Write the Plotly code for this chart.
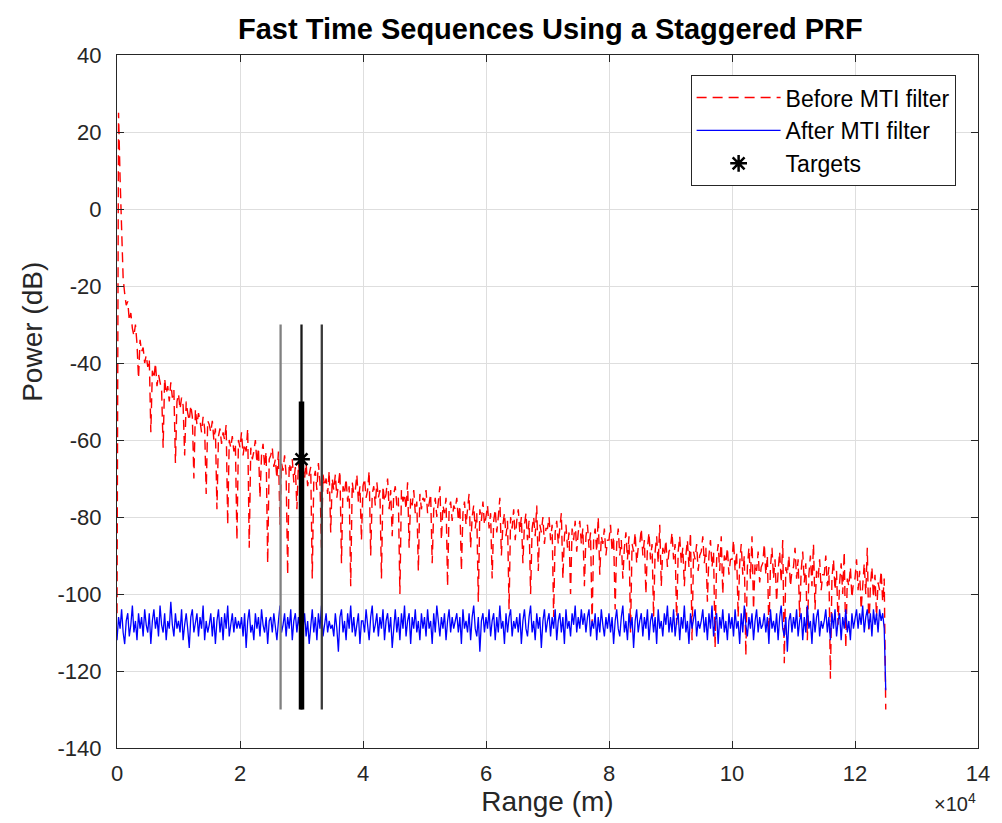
import plotly.graph_objects as go

# ---------------- data ----------------
range_step_m = 250  # range-bin spacing of the sampled sequences
before_mti_db = [
    -105, 25, 8, -5, -18, -22, -25, -24, -29, -27, -31, -33, -30, -35, -44, -34, -37, -36, -40, -38,
    -41, -39, -58, -42, -44, -40, -46, -43, -45, -47, -62, -44, -48, -46, -50, -45, -49, -47, -66, -50,
    -48, -52, -49, -51, -64, -50, -53, -55, -51, -54, -70, -52, -56, -53, -55, -58, -54, -57, -74, -55,
    -56, -58, -55, -60, -57, -78, -59, -57, -61, -58, -60, -56, -82, -60, -62, -59, -63, -61, -86, -60,
    -62, -58, -64, -61, -63, -57, -88, -62, -65, -63, -60, -66, -62, -75, -64, -61, -67, -63, -92, -65,
    -64, -62, -67, -65, -70, -63, -82, -66, -68, -64, -69, -95, -66, -68, -65, -71, -67, -78, -66, -69,
    -65, -68, -70, -66, -72, -69, -67, -96, -70, -68, -73, -66, -71, -88, -69, -72, -70, -74, -68, -84,
    -70, -73, -69, -75, -71, -68, -92, -72, -74, -70, -76, -72, -98, -71, -74, -73, -69, -76, -72, -86,
    -72, -70, -75, -73, -68, -90, -74, -72, -77, -71, -75, -73, -96, -72, -76, -74, -70, -78, -73, -85,
    -74, -72, -77, -75, -100, -73, -76, -74, -78, -71, -88, -75, -77, -73, -79, -76, -94, -74, -78, -75,
    -76, -73, -79, -77, -74, -92, -78, -75, -80, -76, -72, -86, -77, -79, -75, -98, -78, -76, -81, -77,
    -78, -75, -81, -77, -94, -79, -76, -82, -78, -74, -88, -80, -77, -83, -79, -102, -78, -81, -76, -82,
    -80, -77, -83, -79, -96, -81, -78, -84, -80, -75, -90, -82, -79, -85, -81, -104, -80, -83, -78, -86,
    -81, -78, -84, -80, -92, -82, -79, -86, -81, -100, -83, -80, -85, -77, -94, -82, -84, -80, -87, -83,
    -83, -80, -86, -82, -106, -84, -81, -87, -83, -79, -96, -85, -82, -88, -84, -100, -83, -86, -81, -89,
    -84, -81, -87, -83, -98, -85, -82, -88, -84, -108, -86, -83, -89, -80, -95, -85, -87, -83, -90, -86,
    -86, -82, -89, -85, -104, -87, -83, -90, -86, -96, -88, -84, -91, -85, -110, -87, -89, -84, -92, -88,
    -87, -83, -90, -86, -100, -88, -84, -91, -87, -106, -89, -85, -92, -82, -98, -88, -90, -86, -93, -89,
    -88, -84, -91, -87, -108, -89, -85, -92, -88, -98, -90, -86, -93, -84, -112, -89, -91, -87, -94, -90,
    -89, -85, -92, -88, -102, -90, -86, -93, -89, -114, -91, -87, -94, -85, -100, -90, -92, -88, -95, -91,
    -91, -86, -94, -89, -106, -92, -87, -95, -90, -116, -93, -88, -96, -85, -104, -92, -94, -89, -97, -93,
    -92, -87, -95, -90, -110, -93, -88, -96, -91, -102, -94, -89, -97, -86, -118, -93, -95, -90, -98, -94,
    -93, -88, -96, -91, -106, -94, -89, -97, -92, -112, -95, -90, -98, -87, -104, -94, -96, -91, -99, -95,
    -95, -90, -98, -93, -122, -96, -91, -99, -94, -108, -97, -92, -100, -89, -114, -96, -98, -93, -101, -97,
    -96, -91, -99, -94, -104, -97, -92, -100, -88, -110, -98, -93, -101, -95, -106, -97, -99, -94, -102, -96,
    -130,
]
after_mti_db = [
    -112, -106, -109, -104, -110, -113, -107, -105, -111, -108, -103, -110, -107, -112, -105, -109, -106, -111, -104, -108,
    -110, -105, -113, -107, -104, -109, -106, -111, -103, -108, -110, -105, -112, -107, -109, -102, -108, -111, -105, -109,
    -107, -110, -104, -112, -108, -105, -109, -114, -106, -104, -110, -107, -105, -111, -106, -109, -103, -112, -107, -110,
    -108, -105, -111, -106, -113, -107, -104, -110, -106, -112, -105, -109, -103, -111, -108, -105, -110, -106, -109, -107,
    -109, -106, -111, -105, -114, -107, -104, -110, -108, -112, -105, -109, -106, -111, -104, -108, -110, -106, -113, -107,
    -106, -110, -105, -109, -112, -107, -103, -110, -108, -105, -111, -106, -109, -104, -112, -107, -105, -110, -106, -109,
    -66, -109, -105, -111, -107, -113, -108, -104, -110, -106, -112, -105, -109, -103, -111, -108, -105, -110, -107, -109,
    -108, -111, -105, -109, -115, -106, -104, -110, -107, -112, -105, -109, -103, -110, -106, -111, -108, -105, -113, -107,
    -107, -110, -104, -109, -112, -106, -103, -110, -108, -105, -111, -106, -109, -104, -112, -107, -105, -110, -106, -114,
    -108, -104, -110, -106, -112, -105, -109, -103, -111, -107, -105, -113, -106, -109, -104, -110, -107, -112, -105, -109,
    -106, -111, -104, -109, -107, -113, -105, -110, -103, -108, -111, -106, -109, -105, -112, -107, -104, -110, -106, -109,
    -107, -105, -110, -106, -113, -104, -109, -107, -110, -105, -112, -106, -103, -109, -111, -106, -115, -107, -105, -110,
    -106, -109, -104, -111, -107, -105, -112, -106, -110, -103, -109, -107, -113, -105, -110, -106, -104, -111, -107, -109,
    -106, -110, -105, -113, -107, -104, -109, -111, -106, -103, -110, -107, -112, -105, -109, -106, -114, -107, -104, -110,
    -107, -105, -111, -106, -109, -104, -112, -107, -105, -110, -106, -113, -104, -109, -107, -111, -105, -108, -103, -110,
    -106, -109, -104, -108, -105, -110, -106, -104, -111, -107, -109, -105, -112, -106, -110, -104, -108, -111, -106, -109,
    -105, -110, -106, -113, -107, -104, -109, -111, -106, -103, -110, -107, -112, -105, -109, -106, -114, -107, -104, -110,
    -107, -105, -111, -106, -109, -104, -112, -107, -105, -110, -106, -113, -104, -109, -107, -111, -105, -108, -103, -110,
    -106, -110, -104, -111, -107, -105, -112, -106, -109, -103, -110, -107, -113, -105, -109, -106, -104, -111, -107, -109,
    -107, -104, -110, -106, -112, -105, -109, -103, -111, -107, -105, -113, -106, -109, -104, -110, -107, -112, -105, -109,
    -106, -111, -104, -109, -107, -113, -105, -110, -103, -108, -111, -106, -109, -105, -112, -107, -104, -110, -106, -109,
    -108, -105, -110, -106, -113, -104, -109, -107, -110, -105, -112, -106, -103, -109, -111, -106, -115, -107, -105, -110,
    -106, -109, -104, -111, -107, -105, -112, -106, -110, -103, -109, -107, -113, -105, -110, -106, -104, -111, -107, -109,
    -107, -104, -110, -106, -112, -105, -109, -104, -111, -107, -105, -112, -106, -109, -104, -110, -107, -112, -105, -109,
    -106, -104, -109, -105, -108, -103, -110, -106, -104, -109, -105, -111, -104, -108, -105, -110, -104, -107, -105, -109,
    -125,
]
range_m = [i * range_step_m for i in range(len(before_mti_db))]

target_range_m = [30000]
target_power_db = [-65]

# vertical marker lines: x, y-bottom, y-top
marker_line_x = [26600, 30000, 33300]
marker_line_bottom = [-130, -130, -130]
marker_line_top = [-30, -30, -30]
marker_line_colors = ["#808080", "#1a1a1a", "#3a3a3a"]
thick_line_x = [30000]
thick_line_bottom = [-130]
thick_line_top = [-50]

x_tick_vals = [0, 20000, 40000, 60000, 80000, 100000, 120000, 140000]
x_tick_text = ["0", "2", "4", "6", "8", "10", "12", "14"]
y_tick_vals = [-140, -120, -100, -80, -60, -40, -20, 0, 20, 40]
y_tick_text = ["-140", "-120", "-100", "-80", "-60", "-40", "-20", "0", "20", "40"]

# ---------------- figure ----------------
FONT = "Liberation Sans, Arial, Helvetica, sans-serif"
AX = "#262626"

fig = go.Figure()
fig.add_trace(go.Scatter(
    x=range_m, y=before_mti_db, mode="lines", name="Before MTI filter",
    legendgroup="a",
    line=dict(color="#ff0000", width=1.4, dash="10px,6px"),
))
fig.add_trace(go.Scatter(
    x=range_m, y=after_mti_db, mode="lines", name="After MTI filter",
    legendgroup="b",
    line=dict(color="#0000ff", width=1.3),
))
for xv, yb, yt, c in zip(marker_line_x, marker_line_bottom, marker_line_top, marker_line_colors):
    fig.add_trace(go.Scatter(
        x=[xv, xv], y=[yb, yt], mode="lines", showlegend=False, hoverinfo="skip",
        line=dict(color=c, width=2.3),
    ))
for xv, yb, yt in zip(thick_line_x, thick_line_bottom, thick_line_top):
    fig.add_trace(go.Scatter(
        x=[xv, xv], y=[yb, yt], mode="lines", showlegend=False, hoverinfo="skip",
        line=dict(color="#000000", width=5.5),
    ))
fig.add_trace(go.Scatter(
    x=target_range_m, y=target_power_db, mode="markers", name="Targets",
    legendgroup="c",
    marker=dict(symbol="asterisk-open", size=14, color="#000000",
                line=dict(color="#000000", width=2.5)),
))

fig.update_layout(
    width=1002, height=823,
    margin=dict(l=117, r=16, t=55, b=75),
    paper_bgcolor="white", plot_bgcolor="white",
    font=dict(family=FONT, color=AX, size=22),
    title=dict(text="<b>Fast Time Sequences Using a Staggered PRF</b>",
               x=0.5493, xanchor="center", y=0.965, yanchor="middle",
               font=dict(family=FONT, size=29, color="#000000")),
    showlegend=True,
    legend=dict(x=0.974, xanchor="right", y=0.971, yanchor="top",
                bgcolor="white", bordercolor=AX, borderwidth=1,
                font=dict(family=FONT, size=23, color="#000000"),
                itemwidth=84, tracegroupgap=0),
)
fig.update_xaxes(
    range=[0, 140000], tickvals=x_tick_vals, ticktext=x_tick_text,
    showgrid=True, gridcolor="#dedede", gridwidth=1, zeroline=False,
    showline=True, linecolor=AX, linewidth=1.2, mirror="ticks",
    ticks="inside", ticklen=7, tickcolor=AX, ticklabelstandoff=5,
    ticklabeloverflow="allow",
    tickfont=dict(size=22, color=AX),
    title=dict(text="Range (m)", font=dict(size=28, color=AX), standoff=6),
)
fig.update_yaxes(
    range=[-140, 40], tickvals=y_tick_vals, ticktext=y_tick_text,
    showgrid=True, gridcolor="#dedede", gridwidth=1, zeroline=False,
    showline=True, linecolor=AX, linewidth=1.2, mirror="ticks",
    ticks="inside", ticklen=7, tickcolor=AX, ticklabelstandoff=10,
    tickfont=dict(size=22, color=AX),
)
# y-axis label placed where the reference shows it
fig.add_annotation(
    text="Power (dB)", xref="paper", yref="paper", x=-0.098, y=0.60,
    xanchor="center", yanchor="middle", textangle=-90, showarrow=False,
    font=dict(family=FONT, size=28, color=AX),
)
fig.add_annotation(
    text="×10<sup>4</sup>", xref="paper", yref="paper", x=1.0, y=-0.079,
    xanchor="right", yanchor="middle", showarrow=False,
    font=dict(family=FONT, size=20, color=AX),
)

fig.write_html("out.html")
